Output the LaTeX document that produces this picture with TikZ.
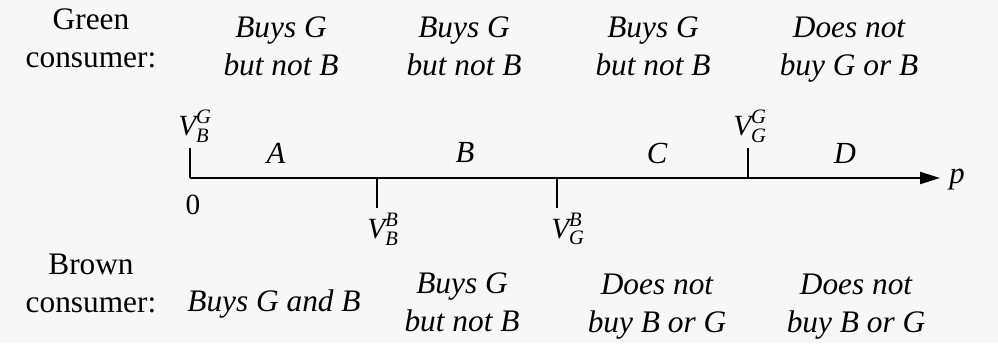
\documentclass[tikz,border=0pt]{standalone}
\usepackage{amsmath}
\usepackage{fontspec}
\setmainfont{Liberation Serif}
\usetikzlibrary{arrows.meta}
\newcommand{\VV}[2]{$\textit{V}^{\textit{#1}}_{\textit{#2}}$}
\definecolor{bgcol}{HTML}{F7F7F7}
\tikzset{
  txt/.style={align=center, inner sep=0pt, font=\fontsize{23.5}{28}\selectfont},
  itxt/.style={txt, font=\fontsize{23.5}{28}\selectfont\itshape},
  mlbl/.style={inner sep=0pt, font=\fontsize{22}{26}\selectfont},
  ilbl/.style={inner sep=0pt, font=\fontsize{23}{26}\selectfont\itshape},
  axisline/.style={line width=1.6pt, -{Triangle[length=15pt,width=9pt]}},
  tickline/.style={line width=1.6pt}
}
\begin{document}
\begin{tikzpicture}[x=0.75pt,y=-0.75pt]
\fill[bgcol] (0,0) rectangle (998,343);
\useasboundingbox (0,0) rectangle (998,343);
% top row
\node[txt] (green) at (91,41) {\strut Green\\\strut consumer:};
\node[itxt] (g1) at (281,49) {\strut Buys G\\\strut but not B};
\node[itxt] (g2) at (464,49) {\strut Buys G\\\strut but not B};
\node[itxt] (g3) at (653,49) {\strut Buys G\\\strut but not B};
\node[itxt] (g4) at (849,49) {\strut Does not\\\strut buy G or B};
% axis
\coordinate (o) at (190,178);
\coordinate (end) at (940,178);
\coordinate (t1) at (377,178);
\coordinate (t2) at (557,178);
\coordinate (t3) at (748,178);
\coordinate (o up) at (190,148);
\coordinate (t1 dn) at (377,208);
\coordinate (t2 dn) at (557,208);
\coordinate (t3 up) at (748,148);
\draw[axisline] (o) -- (end);
\draw[tickline] (o up) -- (o);
\draw[tickline] (t1) -- (t1 dn);
\draw[tickline] (t2) -- (t2 dn);
\draw[tickline] (t3) -- (t3 up);
\node[mlbl] (vbg) at (195,126) {\VV{G}{B}};
\node[mlbl] (zero) at (193,205) {0};
\node[mlbl] (vbb) at (383,229) {\VV{B}{B}};
\node[mlbl] (vgb) at (568,229) {\VV{B}{G}};
\node[mlbl] (vgg) at (750,126) {\VV{G}{G}};
\node[ilbl] (A) at (276,153) {A};
\node[ilbl] (B) at (465,153) {B};
\node[ilbl] (C) at (657,153) {C};
\node[ilbl] (D) at (845,153) {D};
\node[ilbl] (p) at (957,180) {p};
% bottom row
\node[txt] (brown) at (91,286) {\strut Brown\\\strut consumer:};
\node[itxt] (b1) at (274,304.5) {\strut Buys G and B};
\node[itxt] (b2) at (462,305) {\strut Buys G\\\strut but not B};
\node[itxt] (b3) at (657,306) {\strut Does not\\\strut buy B or G};
\node[itxt] (b4) at (856,306) {\strut Does not\\\strut buy B or G};
\end{tikzpicture}
\end{document}
